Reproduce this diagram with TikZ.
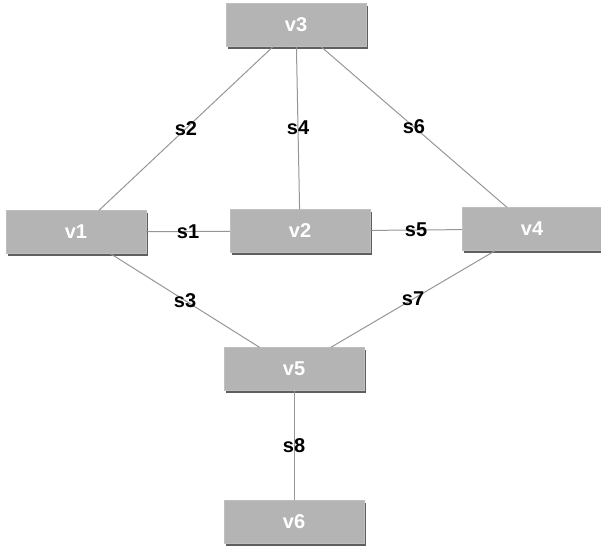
\documentclass[tikz,border=0pt]{standalone}
\usepackage{fontspec}
\setmainfont{Liberation Sans}
\usepackage{tikz}
\usetikzlibrary{shapes.geometric, shadows}
\usetikzlibrary{positioning}
\usetikzlibrary{calc}
\definecolor{nodegray}{RGB}{180,180,180}
\definecolor{edgegray}{RGB}{150,150,150}
\definecolor{shadegray}{RGB}{95,95,95}
\tikzstyle{vertex} = [rectangle,
minimum width=140pt,
minimum height=43pt,
text centered,
draw=nodegray!85!white,
fill=nodegray,
text=white,
font=\bfseries\fontsize{20}{22}\selectfont,
drop shadow={shadow xshift=1.6pt, shadow yshift=-2pt, fill=shadegray, opacity=1}]
\tikzstyle{line} = [draw, color=edgegray, line width=1pt]
\tikzstyle{lbl} = [text=black, font=\bfseries\fontsize{20}{22}\selectfont]

\begin{document}
\begin{tikzpicture}[x=1pt, y=-1pt]
\useasboundingbox (0,0) rectangle (601,550);

\node [vertex] (v3) at (296,25) {v3};
\node [vertex] (v1) at (76,232) {v1};
\node [vertex] (v2) at (300,231) {v2};
\node [vertex] (v4) at (532,229) {v4};
\node [vertex] (v5) at (294,369) {v5};
\node [vertex] (v6) at (294,522) {v6};

\path [line] (v1) -- node[lbl] {s1} (v2);
\path [line] (v3) -- node[lbl] {s2} (v1);
\path [line] (v1) -- node[lbl] {s3} (v5);
\path [line] (v3) -- node[lbl] {s4} (v2);
\path [line] (v2) -- node[lbl] {s5} (v4);
\path [line] (v3) -- node[lbl] {s6} (v4);
\path [line] (v4) -- node[lbl] {s7} (v5);
\path [line] (v5) -- node[lbl] {s8} (v6);

\end{tikzpicture}
\end{document}
